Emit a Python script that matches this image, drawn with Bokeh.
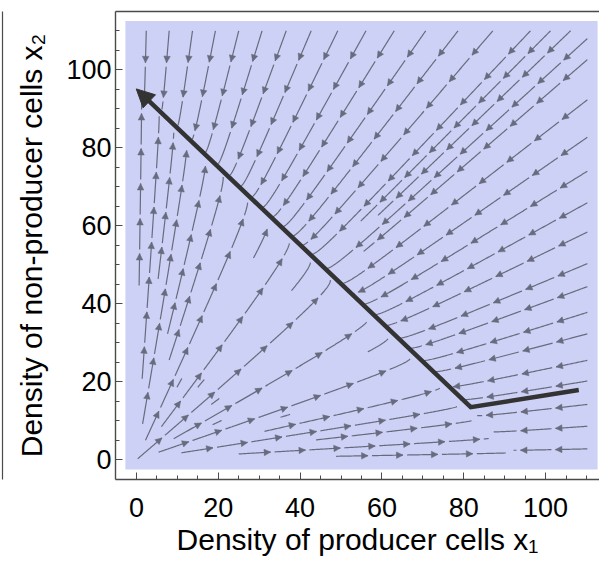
import math
from bokeh.plotting import figure
from bokeh.models import (Range1d, FixedTicker, LinearAxis, Arrow, NormalHead,
                          ColumnDataSource)
from bokeh.embed import file_html
from bokeh.resources import INLINE

# ---------------- data ----------------
x_ticks = [0, 20, 40, 60, 80, 100]
y_ticks = [0, 20, 40, 60, 80, 100]
minor_ticks = [0, 5, 10, 15, 20, 25, 30, 35, 40, 45, 50, 55, 60, 65, 70, 75,
               80, 85, 90, 95, 100, 105, 110]
x_title = "Density of producer cells x\u2081"
y_title = "Density of non-producer cells x\u2082"

# vector field: x1' = x1 (1 - (x1+x2)/K1),  x2' = x2 (1 - (x1+x2)/K2)
K1 = 93.5      # where producers stop growing
K2 = 95.0      # where non-producers stop growing
domain_lo = 0.0
domain_hi = 110.5

# streamline start points
top_seed_x1 = [2.4, 8.0, 13.7, 19.3, 25.0, 30.7, 36.6, 42.7, 49.2, 56.1, 63.0,
               70.7, 78.6, 87.1, 96.3, 101.2, 106.1]
top_seed_x2 = 110.0
right_seed_x1 = 110.2
right_seed_x2 = [108.0, 102.6, 92.3, 82.7, 74.0, 65.9, 58.4, 50.3, 44.4, 37.8,
                 32.3, 25.5, 20.2, 14.2, 8.6, 2.8]
inner_seed_x1 = [0.3, 2.2, 1.5, 1.4, 0.65, 5.4, 11.0, 6.1, 9.1, 9.9, 8.0, 7.6,
                 5.3, 15.0, 18.3, 18.6, 25.0, 31.3, 35.2, 43.9, 48.8]
inner_seed_x2 = [0.27, 5.0, 9.2, 20.8, 44.7, 1.95, 1.8, 8.5, 5.4, 18.6, 25.6,
                 32.3, 46.4, 18.6, 14.2, 9.0, 1.5, 7.3, 10.9, 5.1, 0.9]

# thick trajectory
traj_x1 = [108.1, 81.7, -0.05]
traj_x2 = [17.9, 13.5, 95.1]

# ---------------- layout ----------------
W, H = 599, 564
BORDER_L, BORDER_R, BORDER_T, BORDER_B = 114, 0, 11, 85
X_START, X_END = -5.12, 113.17
Y_START, Y_END = -5.05, 114.95
SX = (W - BORDER_L - BORDER_R) / (X_END - X_START)
SY = (H - BORDER_T - BORDER_B) / (Y_END - Y_START)
SPACER = 10      # room between the y title and the neighbouring frame edge
EDGE = 2         # width left of the neighbouring frame edge

REGION_COLOR = "#ccd1f5"
STREAM_COLOR = "#686b7d"
TRAJ_COLOR = "#333333"
FRAME_COLOR = "#4a4a4a"
FONT = "Liberation Sans"

# ---------------- streamline tracing ----------------
EPS = 0.012
STEP = 1.0
D_TEST = 8.0
D_SEP = 24.0
PIECE = 35.0
GAP = 2.5


def vel(a, b):
    s = a + b
    return a * (1 - s / K1), b * (1 - s / K2)


def rel_speed(a, b):
    u, v = vel(a, b)
    return math.hypot(u, v) / max(math.hypot(a, b), 1e-9)


def direction(X, Y):
    u, v = vel(X / SX, Y / SY)
    up, vp = u * SX, v * SY
    n = math.hypot(up, vp)
    if n == 0:
        return 0.0, 0.0
    return up / n, vp / n


grid = {}


def add_line(pts):
    for (X, Y) in pts[::2]:
        grid.setdefault((int(X // D_TEST), int(Y // D_TEST)), []).append((X, Y))


def min_dist(X, Y, radius):
    r = int(math.ceil(radius / D_TEST))
    ci, cj = int(X // D_TEST), int(Y // D_TEST)
    best = 1e9
    for i in range(ci - r, ci + r + 1):
        for j in range(cj - r, cj + r + 1):
            for (qx, qy) in grid.get((i, j), ()):
                d = math.hypot(qx - X, qy - Y)
                if d < best:
                    best = d
    return best


def inside(a, b):
    return domain_lo <= a <= domain_hi and domain_lo <= b <= domain_hi


def trace(a, b, grace):
    X, Y = a * SX, b * SY
    pts = [(X, Y)]
    arc = 0.0
    for _ in range(5000):
        if rel_speed(X / SX, Y / SY) < EPS:
            break
        k1 = direction(X, Y)
        k2 = direction(X + 0.5 * STEP * k1[0], Y + 0.5 * STEP * k1[1])
        k3 = direction(X + 0.5 * STEP * k2[0], Y + 0.5 * STEP * k2[1])
        k4 = direction(X + STEP * k3[0], Y + STEP * k3[1])
        dx = STEP * (k1[0] + 2 * k2[0] + 2 * k3[0] + k4[0]) / 6
        dy = STEP * (k1[1] + 2 * k2[1] + 2 * k3[1] + k4[1]) / 6
        if dx == 0 and dy == 0:
            break
        X, Y = X + dx, Y + dy
        if not inside(X / SX, Y / SY):
            break
        arc += math.hypot(dx, dy)
        if arc > grace and min_dist(X, Y, D_TEST) < D_TEST:
            break
        pts.append((X, Y))
    return pts


def length(pts):
    return sum(math.hypot(pts[i + 1][0] - pts[i][0], pts[i + 1][1] - pts[i][1])
               for i in range(len(pts) - 1))


seeds = ([(x, top_seed_x2) for x in top_seed_x1] +
         [(right_seed_x1, y) for y in right_seed_x2] +
         list(zip(inner_seed_x1, inner_seed_x2)))

lines = []
for (a, b) in seeds:
    pts = trace(a, b, grace=10.0)
    if len(pts) > 3:
        lines.append(pts)
        add_line(pts)

# fill remaining wide gaps (evenly spaced streamlines)
qi = 0
while qi < len(lines) and len(lines) < 160:
    pts = lines[qi]
    qi += 1
    for k in range(0, len(pts) - 1, 6):
        X, Y = pts[k]
        X2, Y2 = pts[k + 1]
        n = math.hypot(X2 - X, Y2 - Y)
        if n == 0:
            continue
        nx, ny = -(Y2 - Y) / n, (X2 - X) / n
        for sgn in (1, -1):
            cx, cy = X + sgn * D_SEP * nx, Y + sgn * D_SEP * ny
            a, b = cx / SX, cy / SY
            if not (0.5 <= a <= domain_hi - 0.5 and 0.5 <= b <= domain_hi - 0.5):
                continue
            if rel_speed(a, b) < 2 * EPS:
                continue
            if min_dist(cx, cy, D_SEP) < D_SEP:
                continue
            new = trace(a, b, grace=3.0)
            if length(new) > 20:
                lines.append(new)
                add_line(new)

# cut lines into arrow pieces
seg_xs, seg_ys = [], []
ah = dict(x_start=[], y_start=[], x_end=[], y_end=[])
for pts in lines:
    cum = [0.0]
    for i in range(len(pts) - 1):
        cum.append(cum[-1] + math.hypot(pts[i + 1][0] - pts[i][0],
                                        pts[i + 1][1] - pts[i][1]))
    total = cum[-1]
    k = 0
    while k * PIECE < total:
        s0 = k * PIECE
        full = (k + 1) * PIECE <= total
        s1 = (k + 1) * PIECE - GAP if full else total
        if s1 - s0 < 3:
            break
        idx = [i for i in range(len(pts)) if s0 <= cum[i] <= s1]
        if len(idx) >= 2:
            seg_xs.append([pts[i][0] / SX for i in idx])
            seg_ys.append([pts[i][1] / SY for i in idx])
            if full:
                e = idx[-1]
                s = max(idx[0], e - 2)
                ah["x_start"].append(pts[s][0] / SX)
                ah["y_start"].append(pts[s][1] / SY)
                ah["x_end"].append(pts[e][0] / SX)
                ah["y_end"].append(pts[e][1] / SY)
        k += 1

# ---------------- figure ----------------
p = figure(width=W, height=H, x_range=Range1d(X_START, X_END),
           y_range=Range1d(Y_START, Y_END), output_backend="svg",
           toolbar_location=None, min_border_left=0,
           min_border_right=BORDER_R, min_border_top=BORDER_T,
           min_border_bottom=BORDER_B)
p.outline_line_color = None
p.background_fill_color = "white"
p.border_fill_color = "white"
p.xgrid.visible = False
p.ygrid.visible = False

for ax, ticks in ((p.xaxis[0], x_ticks), (p.yaxis[0], y_ticks)):
    ax.ticker = FixedTicker(ticks=ticks, minor_ticks=minor_ticks)
    ax.major_tick_in = 7
    ax.major_tick_out = 0
    ax.minor_tick_in = 4
    ax.minor_tick_out = 0
    ax.axis_line_color = FRAME_COLOR
    ax.axis_line_width = 1.4
    ax.major_tick_line_color = FRAME_COLOR
    ax.minor_tick_line_color = FRAME_COLOR
    ax.major_label_text_font = FONT
    ax.major_label_text_font_size = "27px"
    ax.major_label_text_color = "black"
    ax.axis_label_text_font = FONT
    ax.axis_label_text_font_size = "30px"
    ax.axis_label_text_font_style = "normal"
    ax.axis_label_text_color = "black"
p.xaxis[0].major_label_standoff = 18
p.xaxis[0].axis_label = x_title
p.xaxis[0].axis_label_standoff = 3
p.yaxis[0].major_label_standoff = 4
p.yaxis[0].axis_label = y_title
p.yaxis[0].axis_label_standoff = 15

# empty spacer, then the neighbouring panel's frame edge at the far left
spacer = LinearAxis(ticker=FixedTicker(ticks=[50]), major_label_overrides={50: ""},
                    major_tick_in=0, major_tick_out=SPACER, minor_tick_in=0,
                    minor_tick_out=0, major_label_standoff=0,
                    axis_line_color=None, major_tick_line_color=None,
                    minor_tick_line_color=None)
p.add_layout(spacer, "left")
edge = LinearAxis(ticker=FixedTicker(ticks=[50]), major_label_overrides={50: ""},
                  major_tick_in=0, major_tick_out=EDGE, minor_tick_in=0,
                  minor_tick_out=0, major_label_standoff=0,
                  axis_line_color=FRAME_COLOR, axis_line_width=1.2,
                  major_tick_line_color=None, minor_tick_line_color=None)
p.add_layout(edge, "left")

top_axis = LinearAxis(ticker=FixedTicker(ticks=[]), major_tick_in=0,
                      major_tick_out=0, minor_tick_in=0, minor_tick_out=0,
                      major_label_standoff=0, axis_line_color=FRAME_COLOR,
                      axis_line_width=1.4)
p.add_layout(top_axis, "above")

# shaded stream-plot region
pad_x, pad_y = 2.7, 2.5
p.quad(left=[0 - pad_x], right=[110 + pad_x], bottom=[0 - pad_y],
       top=[110 + pad_y], fill_color=REGION_COLOR, line_color=None)

p.multi_line(seg_xs, seg_ys, line_color=STREAM_COLOR, line_width=1.2)
p.add_layout(Arrow(end=NormalHead(size=6.5, fill_color=STREAM_COLOR,
                                  line_color=STREAM_COLOR, line_width=0.5),
                   source=ColumnDataSource(ah), x_start="x_start",
                   y_start="y_start", x_end="x_end", y_end="y_end",
                   line_alpha=0))

# thick trajectory, shortened a little at the tip so the head covers it
tx = list(traj_x1)
ty = list(traj_x2)
ddx = (tx[-1] - tx[-2]) * SX
ddy = (ty[-1] - ty[-2]) * SY
dl = math.hypot(ddx, ddy)
tx[-1] = tx[-1] - 8 * ddx / dl / SX
ty[-1] = ty[-1] - 8 * ddy / dl / SY
p.line(tx, ty, line_color=TRAJ_COLOR, line_width=4.5, line_join="miter")
p.add_layout(Arrow(end=NormalHead(size=18, fill_color=TRAJ_COLOR,
                                  line_color=TRAJ_COLOR, line_width=1),
                   x_start=traj_x1[-2], y_start=traj_x2[-2],
                   x_end=traj_x1[-1], y_end=traj_x2[-1], line_alpha=0))

open("out.html", "w").write(file_html(p, INLINE))
